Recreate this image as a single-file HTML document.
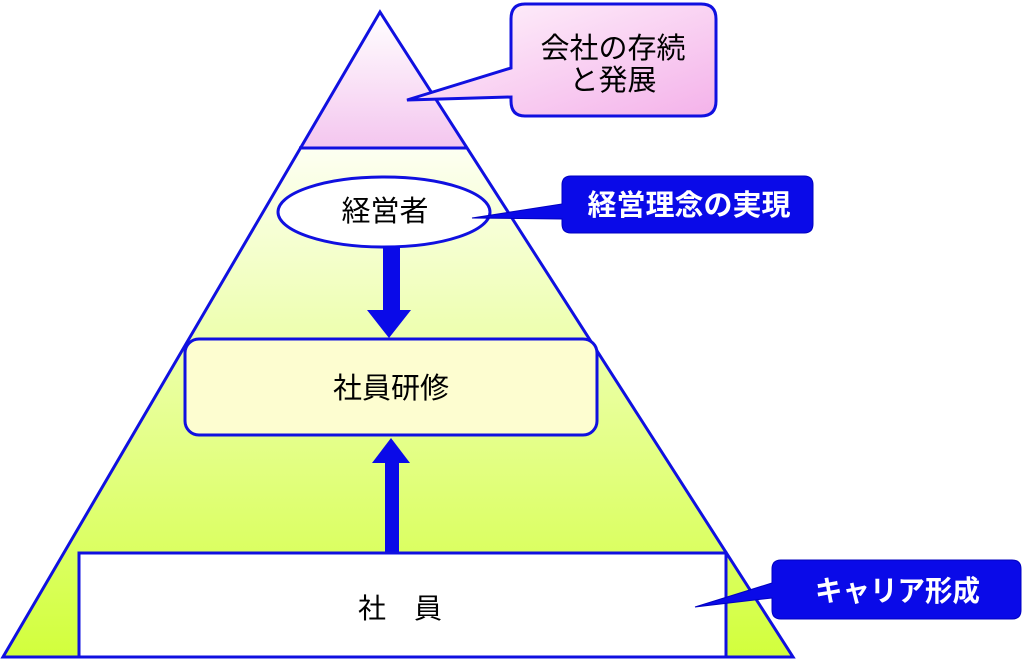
<!DOCTYPE html>
<html><head><meta charset="utf-8"><style>
body{margin:0;background:#fff;width:1024px;height:660px;overflow:hidden}
text{font-family:"Liberation Sans","Noto Sans CJK JP",sans-serif}
</style></head><body>
<svg width="1024" height="660" viewBox="0 0 1024 660">
<defs>
<linearGradient id="g" x1="0" y1="148" x2="0" y2="657" gradientUnits="userSpaceOnUse">
<stop offset="0" stop-color="#fdfff2"/><stop offset="1" stop-color="#d2ff3c"/></linearGradient>
<linearGradient id="p" x1="0" y1="0" x2="1" y2="1">
<stop offset="0" stop-color="#fff6fc"/><stop offset="1" stop-color="#f4b2ea"/></linearGradient>
<linearGradient id="pt" x1="0" y1="12" x2="0" y2="148" gradientUnits="userSpaceOnUse">
<stop offset="0" stop-color="#fff"/><stop offset="1" stop-color="#f4c6ef"/></linearGradient>
</defs>
<polygon points="299,148 467,148 793,657 3,657" fill="url(#g)"/>
<polygon points="380,12 467,148 299,148" fill="url(#pt)"/>
<polygon points="380,12 793,657 3,657" fill="none" stroke="#1010e0" stroke-width="3"/>
<line x1="299" y1="148" x2="467" y2="148" stroke="#1010e0" stroke-width="3"/>
<path d="M525,4 H701 Q716,4 716,19 V101 Q716,116 701,116 H525 Q511,116 511,101 V97 L407,100 L511,68 V19 Q511,4 525,4 Z" fill="url(#p)" stroke="#1010e0" stroke-width="3"/>
<text x="613" y="58" font-size="29" text-anchor="middle">会社の存続</text>
<text x="613" y="90" font-size="29" text-anchor="middle">と発展</text>
<ellipse cx="384" cy="212" rx="106" ry="35" fill="#fff" stroke="#1010e0" stroke-width="3"/>
<text x="385" y="221" font-size="29" text-anchor="middle">経営者</text>
<path d="M571,176 H804 Q813,176 813,185 V224 Q813,233 804,233 H571 Q562,233 562,224 V219 L472,218 L562,204 V185 Q562,176 571,176 Z" fill="#0a0ae8" stroke="#0000c0" stroke-width="1"/>
<text x="689" y="215" font-size="29" font-weight="bold" fill="#fff" text-anchor="middle">経営理念の実現</text>
<rect x="383" y="246" width="17" height="66" fill="#0a0ae8"/>
<polygon points="367,310 411,310 389,338" fill="#0a0ae8"/>
<rect x="185" y="339" width="412" height="96" rx="14" fill="#fdfdd0" stroke="#1010e0" stroke-width="3"/>
<text x="391" y="398" font-size="29" text-anchor="middle">社員研修</text>
<polygon points="391,438 410,463 372,463" fill="#0a0ae8"/>
<rect x="385" y="462" width="14" height="92" fill="#0a0ae8"/>
<rect x="79" y="553" width="647" height="104" fill="#fff" stroke="#1010e0" stroke-width="3"/>
<text x="400" y="618" font-size="28" text-anchor="middle">社　員</text>
<path d="M781,560 H1012 Q1021,560 1021,569 V610 Q1021,619 1012,619 H781 Q772,619 772,610 V598 L695,607 L772,583 V569 Q772,560 781,560 Z" fill="#0a0ae8" stroke="#0000c0" stroke-width="1"/>
<text x="815" y="601" font-size="29" font-weight="bold" fill="#fff" textLength="165" lengthAdjust="spacingAndGlyphs">キャリア形成</text>
</svg>
</body></html>
